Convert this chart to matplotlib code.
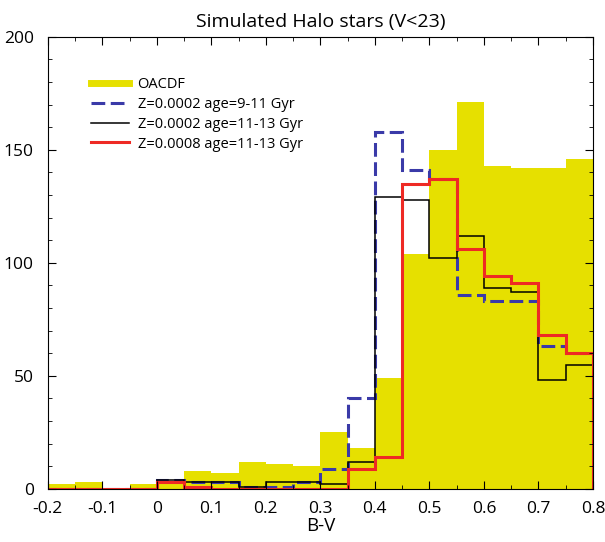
import numpy as np
import matplotlib
matplotlib.use("Agg")
import matplotlib.pyplot as plt
from matplotlib.lines import Line2D
from matplotlib.ticker import MultipleLocator, FuncFormatter

plt.rcParams['font.family'] = ['Open Sans', 'DejaVu Sans']

# bin edges in B-V (width 0.05)
edges = np.round(np.arange(-0.2, 0.8001, 0.05), 2)

# counts per bin
oacdf = [2, 3, 0, 2, 3, 8, 7, 12, 11, 10, 25, 18, 49, 104, 150, 171, 143, 142, 142, 146]
z0002_9_11 = [0, 0, 0, 0, 4, 3, 3, 1, 1, 3, 9, 40, 158, 141, 137, 86, 83, 83, 63, 60]
z0002_11_13 = [0, 0, 0, 0, 4, 3, 3, 1, 3, 3, 2, 12, 129, 128, 102, 112, 89, 87, 48, 55]
z0008_11_13 = [0, 0, 0, 0, 3, 1, 0, 0, 0, 0, 0, 9, 14, 135, 137, 106, 94, 91, 68, 60]

labels = ["OACDF", "Z=0.0002 age=9-11 Gyr", "Z=0.0002 age=11-13 Gyr",
          "Z=0.0008 age=11-13 Gyr"]

yellow = "#e6e000"
blue = "#3a3aa8"
red = "#ee2a24"
dash = (0, (4.5, 1.8))

fig = plt.figure(figsize=(6.05, 5.42), dpi=100)
ax = fig.add_axes([0.079, 0.098, 0.901, 0.834])

ax.stairs(oacdf, edges, fill=True, color=yellow, lw=0)
ax.stairs(z0002_9_11, edges, color=blue, lw=2.2, linestyle=dash)
ax.stairs(z0002_11_13, edges, color="black", lw=1.1)
ax.stairs(z0008_11_13, edges, color=red, lw=2.2)

ax.set_xlim(-0.2, 0.8)
ax.set_ylim(0, 200)
ax.xaxis.set_major_locator(MultipleLocator(0.1))
ax.xaxis.set_minor_locator(MultipleLocator(0.05))
ax.yaxis.set_major_locator(MultipleLocator(50))
ax.yaxis.set_minor_locator(MultipleLocator(10))
ax.xaxis.set_major_formatter(FuncFormatter(lambda v, p: "0" if abs(v) < 1e-9 else "%g" % round(v, 1)))
ax.tick_params(which="both", direction="in", top=True, right=True, labelsize=12.5)
ax.tick_params(which="major", length=6)
ax.tick_params(which="minor", length=3)
ax.tick_params(axis="x", which="major", pad=9)
ax.tick_params(axis="y", which="major", pad=10)
for s in ax.spines.values():
    s.set_linewidth(0.8)

ax.set_xlabel("B-V", fontsize=13.5, labelpad=0)
ax.set_title("Simulated Halo stars (V<23)", fontsize=14, pad=7)

handles = [Line2D([], [], color=yellow, lw=5),
           Line2D([], [], color=blue, lw=2.2, linestyle=dash),
           Line2D([], [], color="black", lw=1.1),
           Line2D([], [], color=red, lw=2.2)]
ax.legend(handles, labels, loc="upper left", bbox_to_anchor=(0.055, 0.94),
          frameon=False, fontsize=10.5, handlelength=2.6, labelspacing=0.33,
          handletextpad=0.6)

fig.savefig("out.png", dpi=100)
